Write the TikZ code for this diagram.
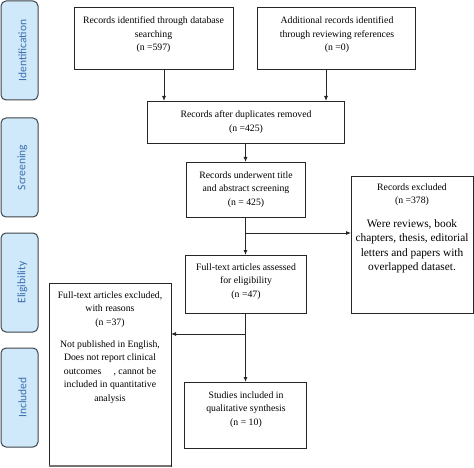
\documentclass[tikz,border=0pt]{standalone}
\usepackage{fontspec}
\setmainfont{Liberation Serif}
\newfontfamily\sidefont{Carlito}
\usetikzlibrary{arrows.meta,calc}
\definecolor{sidefill}{RGB}{207,233,251}
\definecolor{sideborder}{RGB}{62,68,74}
\definecolor{sidetext}{RGB}{58,110,172}
\tikzset{
  flowbox/.style={draw=black!85, line width=0.8bp, fill=white, minimum width=#1, inner sep=0pt, outer sep=0pt},
  boxtext/.style={anchor=north, align=center, inner sep=0pt, font=\fontsize{9.8}{13.5}\selectfont},
  bigtext/.style={anchor=north, align=center, inner sep=0pt, font=\fontsize{11.4}{14.3}\selectfont},
  sidebox/.style={draw=sideborder, line width=1bp, fill=sidefill, rounded corners=5bp},
  sidelabel/.style={rotate=90, text=sidetext, inner sep=0pt, font=\sidefont\fontsize{11.5}{13}\selectfont},
  arr/.style={draw=black!85, line width=0.8bp, -{Latex[length=5bp,width=4bp]}},
}
\begin{document}
\begin{tikzpicture}[x=1bp,y=-1bp]
\useasboundingbox (0,0) rectangle (474,468);
% side stage boxes
\draw[sidebox] (1,1) rectangle (38,100);
\draw[sidebox] (1,118) rectangle (38,217);
\draw[sidebox] (1,233) rectangle (38,332);
\draw[sidebox] (1,348) rectangle (38,447);
\node[sidelabel] (lid) at (22.5,50.5) {Identification};
\node[sidelabel] (lsc) at (22.5,167.5) {Screening};
\node[sidelabel] (lel) at (22.5,282.5) {Eligibility};
\node[sidelabel] (lin) at (22.5,397.5) {Included};
% boxes
\node[flowbox=159bp, minimum height=62bp] (b1) at (153.5,38) {};
\node[flowbox=158bp, minimum height=62bp] (b2) at (336,38) {};
\node[flowbox=197bp, minimum height=42bp] (b3) at (245.5,122) {};
\node[flowbox=119bp, minimum height=55bp] (b4) at (245.5,189.5) {};
\node[flowbox=122bp, minimum height=137bp] (bx) at (412,244.5) {};
\node[flowbox=121bp, minimum height=58bp] (b5) at (245.5,284) {};
\node[flowbox=122bp, minimum height=183bp] (b6) at (110,374.5) {};
\node[flowbox=122bp, minimum height=66bp] (b7) at (245.5,415) {};
\draw[black!55, line width=1.4bp] (b6.south west) -- (b6.south east);
% texts
\node[boxtext] (t1) at (153.5,16.5) {Records identified through database\\searching\\(n =597)};
\node[boxtext] (t2) at (337,16.5) {Additional records identified\\through reviewing references\\(n =0)};
\node[boxtext] (t3) at (246,110.5) {Records after duplicates removed\\(n =425)};
\node[boxtext] (t4) at (246,171.5) {Records underwent title\\and abstract screening\\(n = 425)};
\node[boxtext] (tx) at (412,183.5) {Records excluded\\(n =378)};
\node[bigtext] (tx2) at (412,219.5) {Were reviews, book\\chapters, thesis, editorial\\letters and papers with\\overlapped dataset.};
\node[boxtext] (t5) at (246,263.5) {Full-text articles assessed\\for eligibility\\(n =47)};
\node[boxtext] (t6) at (110,291.5) {Full-text articles excluded,\\with reasons\\(n =37)};
\node[boxtext] (t6b) at (110,340.5) {Not published in English,\\Does not report clinical\\outcomes\quad\ , cannot be\\included in quantitative\\analysis};
\node[boxtext] (t7) at (246,391.5) {Studies included in\\qualitative synthesis\\(n = 10)};
% connectors
\draw[arr] ([xshift=10.5bp]b1.south) -- ([xshift=10.5bp]b1.south |- b3.north);
\draw[arr] ([xshift=-10bp]b2.south) -- ([xshift=-10bp]b2.south |- b3.north);
\draw[arr] (b3.south) -- (b4.north);
\coordinate (j1) at (245.5,233);
\coordinate (j2) at (245.5,334);
\draw[arr] (b4.south) -- (b5.north);
\draw[arr] (j1) -- (j1 -| bx.west);
\draw[arr] (b5.south) -- (b7.north);
\draw[arr] (j2) -- (j2 -| b6.east);
\end{tikzpicture}
\end{document}
